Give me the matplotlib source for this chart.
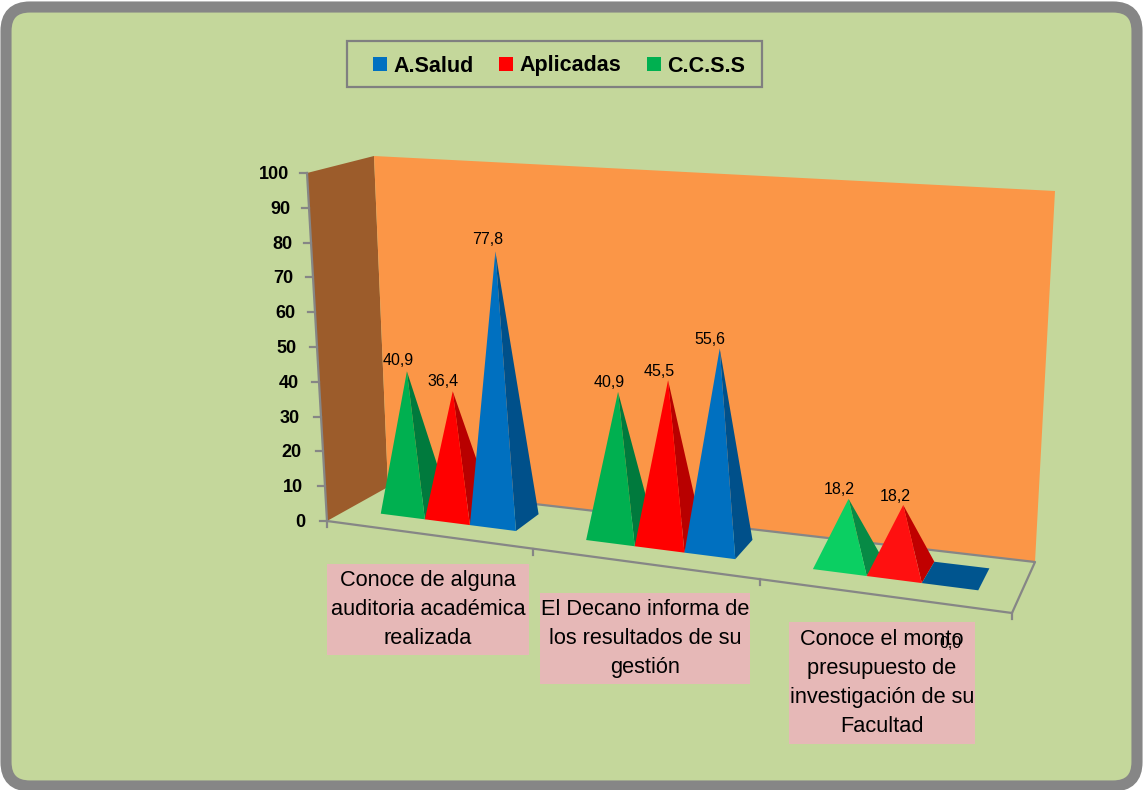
import matplotlib

matplotlib.use("Agg")
import matplotlib.pyplot as plt
from matplotlib.patches import FancyBboxPatch, Polygon, Rectangle
import numpy as np

categories = [
    "Conoce de alguna\nauditoria académica\nrealizada",
    "El Decano informa de\nlos resultados de su\ngestión",
    "Conoce el monto\npresupuesto de\ninvestigación de su\nFacultad",
]
series_names = ["A.Salud", "Aplicadas", "C.C.S.S"]
# drawn back to front: green, red, blue
ccss = [40.9, 40.9, 18.2]
aplicadas = [36.4, 45.5, 18.2]
salud = [77.8, 55.6, 0.0]
y_ticks = [0, 10, 20, 30, 40, 50, 60, 70, 80, 90, 100]

plt.rcParams["font.family"] = ["Liberation Sans", "DejaVu Sans"]

GREY = "#868686"
BG = "#c4d79b"
# 8 corners of the fake 3D box, in picture pixels
F0L = np.array([327, 521.0])
F0R = np.array([1012, 613.0])
B0L = np.array([388, 487.0])
B0R = np.array([1035, 562.0])
F1L = np.array([307, 173.0])
F1R = np.array([1036, 221.0])
B1L = np.array([374, 156.0])
B1R = np.array([1055, 191.0])
K = 1.163  # perspective along the category axis
V0, V1 = 0.34, 0.78  # depth of the pyramid bases
V_TIP = 0.48  # depth of the pyramid tips
U_TIP = 0.009  # tips sit a bit right of the base centre


def proj(u, v, h):
    """category position u (0-3), depth v (0-1), value h (0-100) to pixels."""
    s = u / 3.0
    t = s / (s + K * (1 - s))
    q = h / 100.0
    f0 = F0L + (F0R - F0L) * t
    b0 = B0L + (B0R - B0L) * t
    f1 = F1L + (F1R - F1L) * t
    b1 = B1L + (B1R - B1L) * t
    bottom = f0 + (b0 - f0) * v
    top = f1 + (b1 - f1) * v
    return bottom + (top - bottom) * q


fig = plt.figure(figsize=(11.43, 7.90), dpi=100)
ax = fig.add_axes([0, 0, 1, 1])
ax.set_xlim(0, 1143)
ax.set_ylim(790, 0)
ax.axis("off")

ax.add_patch(FancyBboxPatch((6, 7), 1131, 779, boxstyle="round,pad=0,rounding_size=24",
                            fc=BG, ec=GREY, lw=8))

# walls
ax.add_patch(Polygon([F1L, B1L, B0L, F0L], fc="#9c5c2b", ec="none"))
ax.add_patch(Polygon([B1L, B1R, B0R, B0L], fc="#fb9647", ec="none"))
# floor outline, left edge has no line; stays behind the pyramids
ax.plot(*zip(F0L, F0R, B0R, B0L), color=GREY, lw=1.6, zorder=1)

# value axis
ax.plot(*zip(F0L, F1L), color=GREY, lw=1.6)
for val in y_ticks:
    p = proj(0, 0, val)
    ax.plot([p[0] - 7, p[0]], [p[1], p[1]], color=GREY, lw=1.6)
    ax.text(p[0] - 22 + 0.04 * val, p[1] + 1.5, str(val), ha="right", va="center",
            fontsize=13, fontweight="bold", color="black")

# category ticks
for i in range(4):
    p = proj(i, 0, 0)
    ax.plot([p[0], p[0]], [p[1], p[1] + 6], color=GREY, lw=1.6)

colors = {
    "green": (["#00b050", "#00b050", "#0bcf62"], ["#007a3d", "#007a3d", "#078a45"]),
    "red": (["#ff0000", "#ff0000", "#ff1010"], ["#b80000", "#b80000", "#c00000"]),
    "blue": (["#0070c0", "#0070c0", "#0070c0"], ["#00508a", "#00508a", "#00558f"]),
}
bar_w = 0.223
label_off = {
    ("green", 0): (-9, -11), ("red", 0): (-10, -10), ("blue", 0): (-8, -12),
    ("green", 1): (-9, -9), ("red", 1): (-9, -9), ("blue", 1): (-10, -9),
    ("green", 2): (-9, -9), ("red", 2): (-8, -9), ("blue", 2): (-5, 63),
}

for i in range(3):
    for j, (name, vals) in enumerate([("green", ccss), ("red", aplicadas), ("blue", salud)]):
        val = vals[i]
        u0 = i + 0.17 + j * bar_w
        u1 = u0 + bar_w
        fl = proj(u0, V0, 0)
        fr = proj(u1, V0, 0)
        br = proj(u1, V1, 0)
        bl = proj(u0, V1, 0)
        tip = proj((u0 + u1) / 2 + U_TIP, V_TIP, val)
        front, side = colors[name]
        if val == 0:
            ax.add_patch(Polygon([fl, fr, br, bl], fc=side[i], ec="none"))
        else:
            ax.add_patch(Polygon([fr, br, tip], fc=side[i], ec="none"))
            ax.add_patch(Polygon([fl, fr, tip], fc=front[i], ec="none"))
        dx, dy = label_off[(name, i)]
        ax.text(tip[0] + dx, tip[1] + dy, f"{val:.1f}".replace(".", ","), ha="center",
                va="center", fontsize=11.5, color="black", zorder=6)

# category labels
boxes = [(327, 564, 202, 91), (540, 593, 210, 91), (789, 622, 186, 122)]
for text, (x, y, w, h) in zip(categories, boxes):
    ax.add_patch(Rectangle((x, y), w, h, fc="#e6b8b7", ec="none", zorder=4))
    ax.text(x + w / 2, y + h / 2, text, ha="center", va="center", fontsize=15.7,
            linespacing=1.48, color="black", zorder=5)

# legend
ax.add_patch(Rectangle((347, 41), 415, 46, fc="none", ec="#808080", lw=1.6))
leg_colors = ["#0070c0", "#ff0000", "#00b050"]
leg_x = [373, 499, 647]
for name, c, x in zip(series_names, leg_colors, leg_x):
    ax.add_patch(Rectangle((x, 57), 14, 14, fc=c, ec="none"))
    ax.text(x + 20, 71.5, name, ha="left", va="baseline", fontsize=15.5, fontweight="bold",
            color="black")

fig.savefig("out.png", dpi=100)
